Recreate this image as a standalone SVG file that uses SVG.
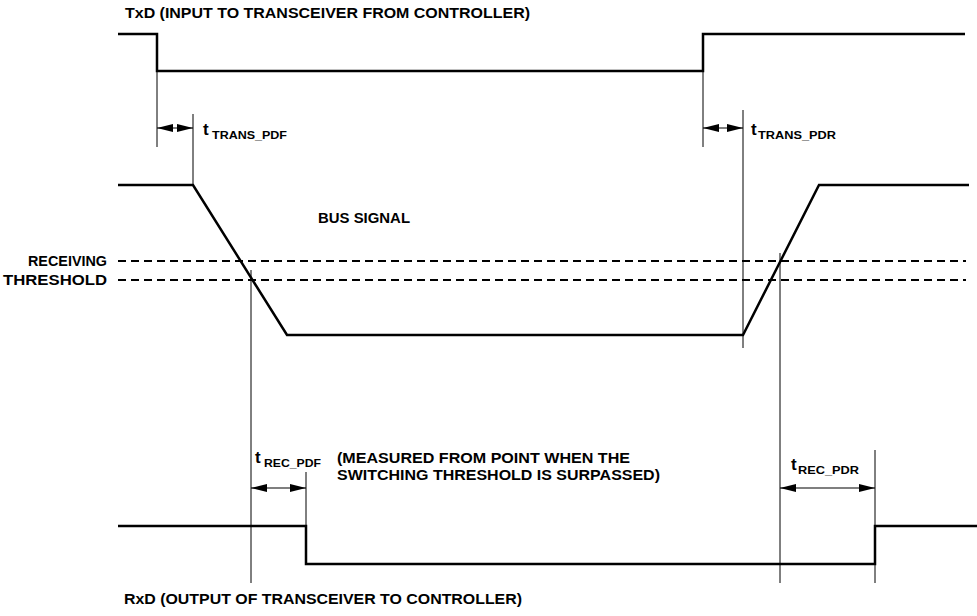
<svg xmlns="http://www.w3.org/2000/svg" width="977" height="616" viewBox="0 0 977 616">
<style>
.sig{fill:none;stroke:#000;stroke-width:2.5;stroke-linejoin:miter}
.ref{fill:none;stroke:#000;stroke-width:1}
.dash{fill:none;stroke:#000;stroke-width:2;stroke-dasharray:8 5}
.dim{fill:none;stroke:#000;stroke-width:1.2}
text{font-family:"Liberation Sans",Arial,sans-serif;font-weight:bold;font-size:14px;fill:#000}
.t{font-size:17px}
.sub{font-size:11.5px}
</style>
<defs>
<marker id="ah" viewBox="0 0 16 8" refX="16" refY="4" markerWidth="16" markerHeight="8" markerUnits="userSpaceOnUse" orient="auto-start-reverse">
<path d="M0,0 L16,4 L0,8 Z" fill="#000"/>
</marker>
</defs>
<rect width="977" height="616" fill="#fff"/>
<g id="txd">
<path class="sig" d="M118,34 H157 V71 H703 V34 H965"/>
<text x="125" y="18" textLength="405" lengthAdjust="spacingAndGlyphs">TxD (INPUT TO TRANSCEIVER FROM CONTROLLER)</text>
</g>
<g id="bus">
<path class="sig" d="M118,185 H193 L287,335 H743 L819,185 H969"/>
<text x="318" y="223" textLength="92" lengthAdjust="spacingAndGlyphs">BUS SIGNAL</text>
</g>
<g id="threshold">
<line class="dash" x1="118" y1="261" x2="966" y2="261"/>
<line class="dash" x1="118" y1="280" x2="966" y2="280"/>
<text x="28" y="266" textLength="79" lengthAdjust="spacingAndGlyphs">RECEIVING</text>
<text x="3" y="285" textLength="104" lengthAdjust="spacingAndGlyphs">THRESHOLD</text>
</g>
<g id="rxd">
<path class="sig" d="M118,526 H306 V564 H875 V526 H977"/>
<text x="124" y="604" textLength="398" lengthAdjust="spacingAndGlyphs">RxD (OUTPUT OF TRANSCEIVER TO CONTROLLER)</text>
</g>
<g id="connectors">
<line class="ref" x1="157" y1="71" x2="157" y2="147"/>
<line class="ref" x1="193" y1="114" x2="193" y2="185"/>
<line class="ref" x1="703" y1="71" x2="703" y2="147"/>
<line class="ref" x1="743" y1="110" x2="743" y2="348"/>
<line class="ref" x1="251" y1="270" x2="251" y2="583"/>
<line class="ref" x1="780" y1="253" x2="780" y2="583"/>
<line class="ref" x1="306" y1="472" x2="306" y2="526"/>
<line class="ref" x1="875" y1="450" x2="875" y2="583"/>
<line class="dim" x1="157" y1="128" x2="193" y2="128" marker-start="url(#ah)" marker-end="url(#ah)"/>
<line class="dim" x1="703" y1="128" x2="743" y2="128" marker-start="url(#ah)" marker-end="url(#ah)"/>
<line class="dim" x1="251" y1="488" x2="306" y2="488" marker-start="url(#ah)" marker-end="url(#ah)"/>
<line class="dim" x1="780" y1="488" x2="875" y2="488" marker-start="url(#ah)" marker-end="url(#ah)"/>
</g>
<g id="labels">
<text x="203" y="135"><tspan class="t">t</tspan><tspan class="sub" x="212" dy="4" textLength="75" lengthAdjust="spacingAndGlyphs">TRANS_PDF</tspan></text>
<text x="751" y="135"><tspan class="t">t</tspan><tspan class="sub" x="758" dy="4" textLength="78" lengthAdjust="spacingAndGlyphs">TRANS_PDR</tspan></text>
<text x="255" y="463"><tspan class="t">t</tspan><tspan class="sub" x="264" dy="4" textLength="57" lengthAdjust="spacingAndGlyphs">REC_PDF</tspan></text>
<text x="791" y="470"><tspan class="t">t</tspan><tspan class="sub" x="798" dy="4" textLength="61" lengthAdjust="spacingAndGlyphs">REC_PDR</tspan></text>
<text x="337" y="463" textLength="293" lengthAdjust="spacingAndGlyphs">(MEASURED FROM POINT WHEN THE</text>
<text x="337" y="480" textLength="323" lengthAdjust="spacingAndGlyphs">SWITCHING THRESHOLD IS SURPASSED)</text>
</g>
</svg>
